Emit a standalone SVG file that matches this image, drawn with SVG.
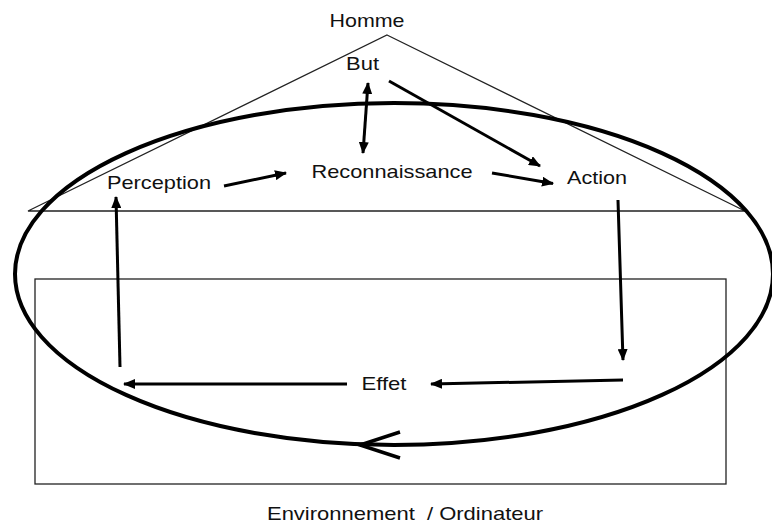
<svg xmlns="http://www.w3.org/2000/svg" width="772" height="525" viewBox="0 0 772 525">
<style>
.t{font-family:"Liberation Sans",Arial,sans-serif;font-size:19px;fill:#111;text-anchor:middle}
.thin{fill:none;stroke:#222;stroke-width:1.3}
.c{fill:none;stroke:#000;stroke-width:3;marker-end:url(#ah)}
</style>
<defs>
<marker id="ah" viewBox="0 0 12 10" refX="11" refY="5" markerWidth="12" markerHeight="10" markerUnits="userSpaceOnUse" orient="auto-start-reverse">
<path d="M0,0 L12,5 L0,10 Z" fill="#000"/>
</marker>
</defs>
<rect width="772" height="525" fill="#fff"/>
<g id="homme">
<polygon class="thin" points="387,35 745,211 28,211"/>
<text class="t" x="367" y="27" textLength="75" lengthAdjust="spacingAndGlyphs">Homme</text>
</g>
<g id="environnement">
<rect class="thin" x="35" y="279" width="691" height="205"/>
<text class="t" x="405" y="520" textLength="276" lengthAdjust="spacingAndGlyphs" xml:space="preserve">Environnement  / Ordinateur</text>
</g>
<g id="cycle">
<ellipse cx="394" cy="274" rx="379" ry="171" fill="none" stroke="#000" stroke-width="4"/>
<polyline points="400,432 360,445 400,458" fill="none" stroke="#000" stroke-width="3.5"/>
</g>
<g id="but"><text class="t" x="362.5" y="70" textLength="33" lengthAdjust="spacingAndGlyphs">But</text></g>
<g id="perception"><text class="t" x="159" y="189" textLength="104" lengthAdjust="spacingAndGlyphs">Perception</text></g>
<g id="reconnaissance"><text class="t" x="392" y="178" textLength="161" lengthAdjust="spacingAndGlyphs">Reconnaissance</text></g>
<g id="action"><text class="t" x="597" y="184" textLength="60" lengthAdjust="spacingAndGlyphs">Action</text></g>
<g id="effet"><text class="t" x="384" y="390" textLength="45" lengthAdjust="spacingAndGlyphs">Effet</text></g>
<g id="connectors">
<line class="c" x1="224" y1="186" x2="286" y2="173"/>
<line class="c" x1="492" y1="173" x2="553" y2="183.5"/>
<line class="c" x1="363" y1="153" x2="368" y2="83" style="marker-start:url(#ah)"/>
<line class="c" x1="389" y1="81" x2="540" y2="166"/>
<line class="c" x1="618" y1="200" x2="623" y2="360"/>
<line class="c" x1="623" y1="380" x2="431" y2="384"/>
<line class="c" x1="347" y1="384" x2="124" y2="384"/>
<line class="c" x1="120" y1="367" x2="116" y2="197"/>
</g>
</svg>
